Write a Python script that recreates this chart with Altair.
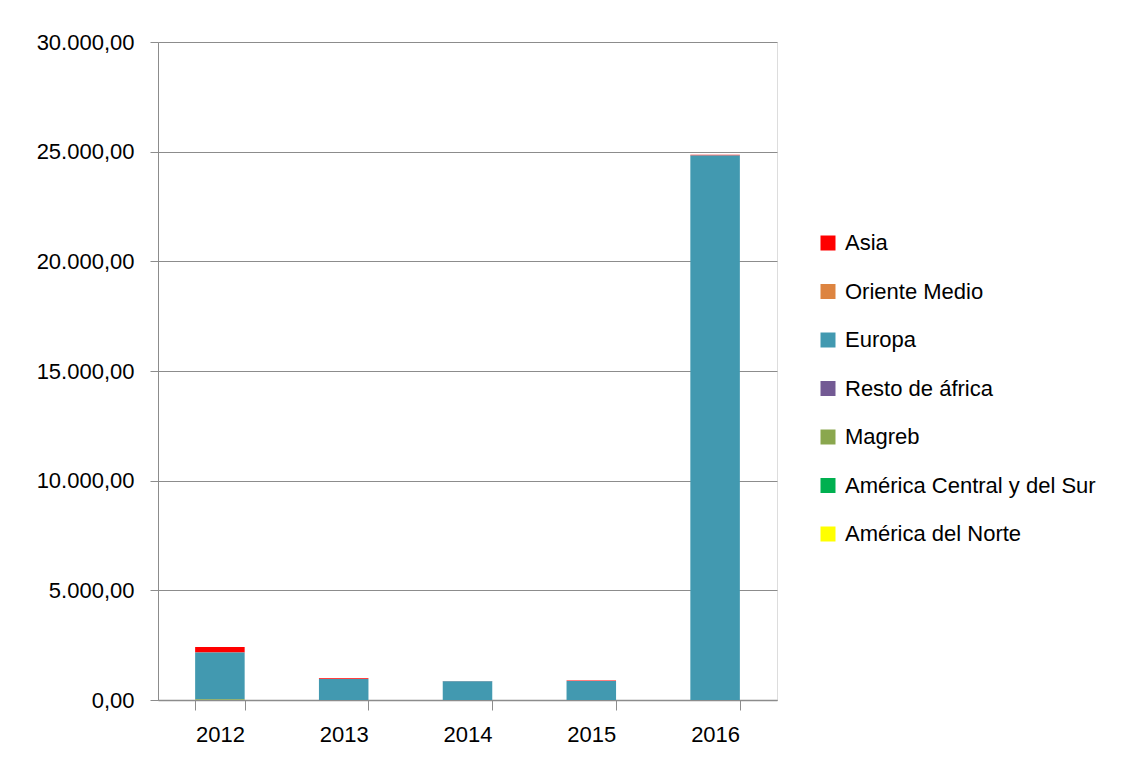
import altair as alt
import pandas as pd

years = ["2012", "2013", "2014", "2015", "2016"]
regions = ["Asia", "Oriente Medio", "Europa", "Resto de áfrica", "Magreb",
           "América Central y del Sur", "América del Norte"]
colors = ["#FF0000", "#DD8440", "#4299B0", "#735A94", "#8AA74E", "#00B050", "#FFFF00"]

asia = [250, 40, 12, 18, 30]
oriente_medio = [0, 0, 0, 0, 0]
europa = [2140, 950, 850, 870, 24830]
resto_africa = [0, 0, 0, 0, 0]
magreb = [25, 5, 0, 0, 0]
america_cs = [5, 0, 0, 0, 0]
america_norte = [0, 0, 0, 0, 0]

series = [asia, oriente_medio, europa, resto_africa, magreb, america_cs, america_norte]
rows = []
for r, vals in zip(regions, series):
    for y, v in zip(years, vals):
        rows.append({"year": y, "region": r, "value": v,
                     "order": len(regions) - regions.index(r)})
df = pd.DataFrame(rows)

font = "Liberation Sans"
fs = 22
label_expr = ("replace(replace(replace(format(datum.value, ',.2f'), regexp(',', 'g'), '#'),"
              " '.', ','), regexp('#', 'g'), '.')")

chart = alt.Chart(df).mark_bar().encode(
    x=alt.X("year:N", title=None, sort=years,
            scale=alt.Scale(paddingInner=0.6, paddingOuter=0.3),
            axis=alt.Axis(labelAngle=0, tickBand="extent", labelFontSize=fs, labelFont=font,
                          labelColor="#000000", domainColor="#8C8C8C", tickColor="#8C8C8C",
                          tickSize=10, labelPadding=14, grid=False, domainWidth=1.5)),
    y=alt.Y("value:Q", title=None, stack="zero",
            scale=alt.Scale(domain=[0, 30000], nice=False),
            axis=alt.Axis(values=[0, 5000, 10000, 15000, 20000, 25000, 30000],
                          labelExpr=label_expr, labelFontSize=fs, labelFont=font,
                          labelColor="#000000", domainColor="#8C8C8C", tickColor="#8C8C8C",
                          tickSize=8, labelPadding=16, gridColor="#8C8C8C", domainWidth=1)),
    color=alt.Color("region:N", sort=regions,
                    scale=alt.Scale(domain=regions, range=colors),
                    legend=alt.Legend(title=None, orient="none", legendX=659, legendY=190,
                                      symbolType="square", symbolSize=225, symbolStrokeWidth=0,
                                      labelFontSize=fs, labelFont=font, labelColor="#000000",
                                      labelLimit=500, rowPadding=26.5, labelOffset=6)),
    order=alt.Order("order:Q", sort="ascending"),
).properties(
    width=619, height=658,
    padding={"left": 28, "top": 23, "right": 10, "bottom": 10},
).configure_view(stroke=None).configure(background="#FFFFFF")

chart.save("out.html", embed_options={"renderer": "svg", "actions": False})
